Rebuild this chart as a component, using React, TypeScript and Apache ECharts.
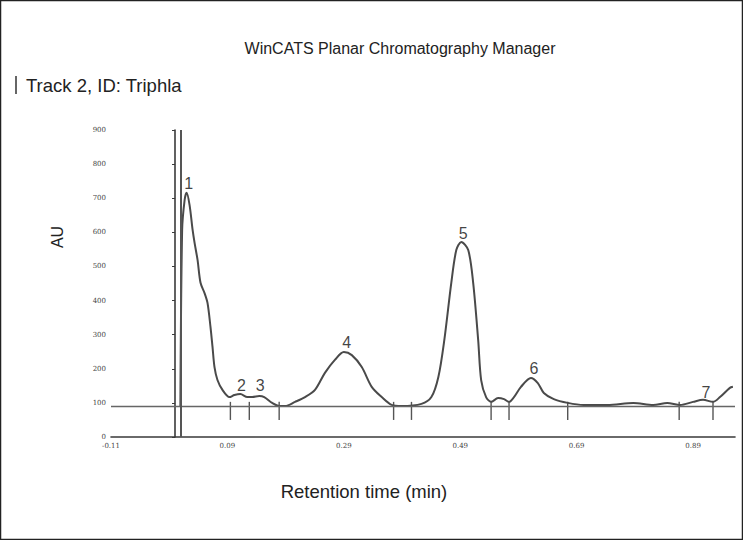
import React, { useEffect, useRef } from "react";
import * as echarts from "echarts";

// Densitogram trace (retention time in min, signal in AU)
const timeMin = [
  0.0092, 0.0122, 0.0165, 0.0199, 0.025, 0.0302, 0.0336, 0.0387, 0.0438, 0.0507,
  0.0558, 0.0609, 0.0644, 0.0678, 0.0729, 0.0815, 0.0934, 0.102, 0.1122, 0.1242,
  0.1327, 0.1447, 0.1532, 0.1669, 0.1789, 0.1891, 0.2062, 0.2233, 0.2404, 0.2575,
  0.2746, 0.29, 0.3037, 0.3208, 0.3379, 0.355, 0.3721, 0.3891, 0.4233, 0.4404,
  0.4524, 0.4626, 0.4746, 0.4832, 0.4917, 0.5037, 0.5122, 0.5208, 0.5259, 0.5344,
  0.543, 0.555, 0.5652, 0.5738, 0.5823, 0.5943, 0.6114, 0.6233, 0.6336, 0.6507,
  0.6746, 0.702, 0.743, 0.7874, 0.8216, 0.8456, 0.8678, 0.89, 0.9071, 0.9242,
  0.9362, 0.9532, 0.9584,
];
const auValues = [
  91, 607, 695, 716, 680, 607, 569, 519, 452, 422,
  393, 323, 264, 205, 167, 138, 117, 123, 126, 117,
  117, 120, 117, 100, 91, 91, 103, 117, 138, 188,
  226, 249, 240, 205, 147, 117, 94, 91, 97, 117,
  176, 284, 452, 548, 572, 548, 452, 284, 167, 117,
  103, 114, 111, 103, 117, 147, 173, 158, 129, 111,
  100, 94, 94, 100, 94, 100, 94, 103, 109, 103,
  117, 144, 147,
];

// Integration baseline, start line and peak delimiters
const baselineAU = 91;
const startLineMin = 0.008;
const delimiterMin = [0.0951, 0.1276, 0.1789, 0.3755, 0.4062, 0.543, 0.5738, 0.6746, 0.8661, 0.9242];

// Peak numbers and where they are written
const peakNames = ["1", "2", "3", "4", "5", "6", "7"];
const peakLabelMin = [0.0233, 0.1139, 0.1464, 0.2951, 0.4951, 0.6165, 0.9122];
const peakLabelAU = [742, 152, 152, 276, 598, 202, 129];

const xMin = -0.11;
const xMax = 0.962;
const xStep = 0.2;
const yMin = 0;
const yMax = 900;
const yStep = 100;

export default function App() {
  const ref = useRef<HTMLDivElement>(null);

  useEffect(() => {
    document.body.style.margin = "0";
    if (!ref.current) return;
    const chart = echarts.init(ref.current, null, { renderer: "svg" });
    const ink = "#4a4a4a";
    const axisInk = "#3a3a3a";
    const tickFont = { fontSize: 7, fontFamily: "DejaVu Serif", color: "#444" };

    chart.setOption({
      animation: false,
      backgroundColor: "#fff",
      grid: { left: 111, right: 8, top: 130, bottom: 103, containLabel: false },
      xAxis: {
        type: "value",
        min: xMin,
        max: xMax,
        interval: xStep,
        axisLine: { lineStyle: { color: axisInk, width: 1.6 } },
        axisTick: { show: false },
        splitLine: { show: false },
        axisLabel: {
          ...tickFont,
          margin: 5,
          showMaxLabel: false,
          formatter: (v: number) => v.toFixed(2),
        },
      },
      yAxis: {
        type: "value",
        min: yMin,
        max: yMax,
        interval: yStep,
        axisLine: { show: true, lineStyle: { color: axisInk, width: 1.6 } },
        axisTick: { show: true, length: 3, lineStyle: { color: axisInk } },
        splitLine: { show: false },
        axisLabel: { ...tickFont, margin: 5 },
      },
      series: [
        {
          type: "line",
          data: timeMin.map((t, i) => [t, auValues[i]]),
          symbol: "none",
          smooth: 0.3,
          lineStyle: { color: ink, width: 2 },
          z: 3,
          markLine: {
            silent: true,
            symbol: "none",
            label: { show: false },
            data: [
              { yAxis: baselineAU, lineStyle: { color: "#666", width: 1.4, type: "solid" } },
              { xAxis: startLineMin, lineStyle: { color: "#555", width: 2, type: "solid" } },
            ],
          },
        },
        {
          type: "custom",
          renderItem: (params: any, api: any) => {
            const x = api.value(0);
            const top = api.coord([x, baselineAU + 12]);
            const bot = api.coord([x, 50]);
            return {
              type: "line",
              shape: { x1: top[0], y1: top[1], x2: bot[0], y2: bot[1] },
              style: { stroke: "#555", lineWidth: 1.4 },
            };
          },
          data: delimiterMin.map((t) => [t, baselineAU]),
          z: 2,
        },
        {
          type: "scatter",
          symbolSize: 0,
          data: peakLabelMin.map((t, i) => ({ value: [t, peakLabelAU[i]], name: peakNames[i] })),
          label: {
            show: true,
            position: "inside",
            formatter: (p: any) => p.name,
            color: "#111",
            fontSize: 16,
            fontFamily: "Liberation Sans",
          },
          z: 4,
        },
      ],
      graphic: [
        {
          type: "rect",
          shape: { x: 0.5, y: 0.5, width: 742, height: 539 },
          style: { fill: "none", stroke: "#222", lineWidth: 1.5 },
          silent: true,
        },
        {
          type: "text",
          x: 400,
          y: 48,
          style: {
            text: "WinCATS Planar Chromatography Manager",
            fill: "#222",
            font: "16px 'Liberation Sans'",
            textAlign: "center",
            textVerticalAlign: "middle",
          },
        },
        {
          type: "rect",
          shape: { x: 15, y: 76, width: 2, height: 18 },
          style: { fill: "#666" },
        },
        {
          type: "text",
          x: 26,
          y: 85,
          style: {
            text: "Track 2, ID: Triphla",
            fill: "#222",
            font: "18.5px 'Liberation Sans'",
            textAlign: "left",
            textVerticalAlign: "middle",
          },
        },
        {
          type: "text",
          x: 57,
          y: 237,
          rotation: Math.PI / 2,
          style: {
            text: "AU",
            fill: "#222",
            font: "16px 'Liberation Sans'",
            textAlign: "center",
            textVerticalAlign: "middle",
          },
        },
        {
          type: "text",
          x: 364,
          y: 491,
          style: {
            text: "Retention time (min)",
            fill: "#222",
            font: "18.5px 'Liberation Sans'",
            textAlign: "center",
            textVerticalAlign: "middle",
          },
        },
      ],
    });

    return () => chart.dispose();
  }, []);

  return <div ref={ref} style={{ width: 743, height: 540 }} />;
}
